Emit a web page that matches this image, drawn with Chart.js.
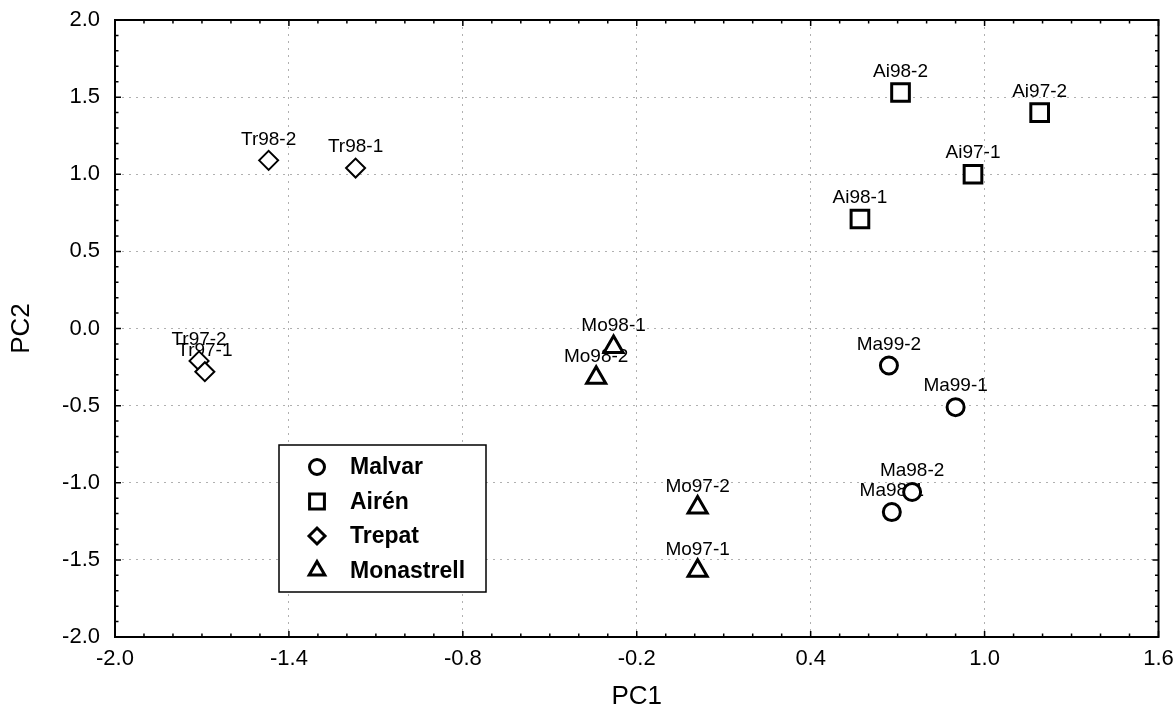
<!DOCTYPE html>
<html>
<head>
<meta charset="utf-8">
<script src="https://cdn.jsdelivr.net/npm/chart.js@4.4.0/dist/chart.umd.min.js"></script>
<style>
  html, body { margin: 0; padding: 0; background: #fff; }
</style>
</head>
<body>
<canvas id="pca" width="1174" height="714"></canvas>
<script>
// sample labels and PCA scores
const malvarNames = ['Ma99-2', 'Ma99-1', 'Ma98-2', 'Ma98-1'];
const malvarPC1 = [0.67, 0.90, 0.75, 0.68];
const malvarPC2 = [-0.24, -0.51, -1.06, -1.19];

const airenNames = ['Ai98-2', 'Ai97-2', 'Ai97-1', 'Ai98-1'];
const airenPC1 = [0.71, 1.19, 0.96, 0.57];
const airenPC2 = [1.53, 1.40, 1.00, 0.71];

const trepatNames = ['Tr98-2', 'Tr98-1', 'Tr97-2', 'Tr97-1'];
const trepatPC1 = [-1.47, -1.17, -1.71, -1.69];
const trepatPC2 = [1.09, 1.04, -0.21, -0.28];

const monaNames = ['Mo98-1', 'Mo98-2', 'Mo97-2', 'Mo97-1'];
const monaPC1 = [-0.28, -0.34, 0.01, 0.01];
const monaPC2 = [-0.12, -0.32, -1.16, -1.57];

const varieties = ['Malvar', 'Airén', 'Trepat', 'Monastrell'];
const xTicks = [-2.0, -1.4, -0.8, -0.2, 0.4, 1.0, 1.6];
const yTicks = [-2.0, -1.5, -1.0, -0.5, 0.0, 0.5, 1.0, 1.5, 2.0];

const FONT = 'Arial, "Liberation Sans", Helvetica, sans-serif';

function pts(xs, ys) {
  return xs.map((x, i) => ({ x: x, y: ys[i] }));
}

function series(label, names, xs, ys, style, radius, bw) {
  return {
    label: label,
    names: names,
    data: pts(xs, ys),
    pointStyle: style,
    pointRadius: radius,
    pointHoverRadius: radius,
    borderWidth: bw,
    borderColor: '#000',
    backgroundColor: '#fff'
  };
}

const datasets = [
  series(varieties[0], malvarNames, malvarPC1, malvarPC2, 'circle', 8.5, 3),
  series(varieties[1], airenNames, airenPC1, airenPC2, 'rect', 12.5, 3),
  series(varieties[2], trepatNames, trepatPC1, trepatPC2, 'rectRot', 9.5, 2),
  series(varieties[3], monaNames, monaPC1, monaPC2, 'triangle', 11, 3)
];

// point names above markers, and the boxed legend in the lower left
const decorPlugin = {
  id: 'decor',
  beforeDatasetsDraw(chart) {
    const ctx = chart.ctx;
    const xs = chart.scales.x, ys = chart.scales.y;
    const area = chart.chartArea;
    ctx.save();
    ctx.fillStyle = '#000';
    ctx.font = '19px ' + FONT;
    ctx.textAlign = 'center';
    ctx.textBaseline = 'middle';
    chart.data.datasets.forEach(ds => {
      ds.data.forEach((p, i) => {
        ctx.fillText(ds.names[i], xs.getPixelForValue(p.x), ys.getPixelForValue(p.y) - 21);
      });
    });

    // legend box
    const bx = area.left + 164, by = area.top + 425, bw = 207, bh = 147;
    ctx.fillStyle = '#fff';
    ctx.fillRect(bx, by, bw, bh);
    ctx.lineWidth = 1.5;
    ctx.strokeStyle = '#000';
    ctx.strokeRect(bx, by, bw, bh);
    ctx.font = 'bold 23px ' + FONT;
    ctx.textAlign = 'left';
    const legSizes = [7.5, 10.5, 8, 9];
    chart.data.datasets.forEach((ds, i) => {
      const cy = by + 22 + i * 34.5;
      ctx.lineWidth = 3;
      ctx.strokeStyle = '#000';
      ctx.fillStyle = '#fff';
      Chart.helpers.drawPoint(ctx, { pointStyle: ds.pointStyle, radius: legSizes[i], rotation: 0, borderWidth: 3 }, bx + 38, cy);
      ctx.fillStyle = '#000';
      ctx.fillText(ds.label, bx + 71, cy + 1);
    });
    ctx.restore();
  },
  afterDraw(chart) {
    const ctx = chart.ctx;
    const { left, right, top, bottom } = chart.chartArea;
    const xs = chart.scales.x, ys = chart.scales.y;
    ctx.save();
    ctx.strokeStyle = '#000';
    ctx.lineWidth = 1.5;
    // inward tick marks, minor every 0.1
    for (let k = 0; k <= 36; k++) {
      const v = -2 + k * 0.1;
      const px = xs.getPixelForValue(v);
      const len = k % 6 === 0 ? 6 : 3.5;
      ctx.beginPath();
      ctx.moveTo(px, bottom); ctx.lineTo(px, bottom - len);
      ctx.moveTo(px, top); ctx.lineTo(px, top + len);
      ctx.stroke();
    }
    for (let k = 0; k <= 40; k++) {
      const v = -2 + k * 0.1;
      const py = ys.getPixelForValue(v);
      const len = k % 5 === 0 ? 6 : 3.5;
      ctx.beginPath();
      ctx.moveTo(left, py); ctx.lineTo(left + len, py);
      ctx.moveTo(right, py); ctx.lineTo(right - len, py);
      ctx.stroke();
    }
    ctx.lineWidth = 2;
    ctx.strokeRect(left, top, right - left, bottom - top);
    ctx.restore();
  }
};

new Chart(document.getElementById('pca').getContext('2d'), {
  type: 'scatter',
  data: { datasets: datasets },
  plugins: [decorPlugin],
  options: {
    responsive: false,
    animation: false,
    devicePixelRatio: 1,
    layout: { padding: { left: 0, right: 14, top: 20, bottom: 0 } },
    plugins: { legend: { display: false }, tooltip: { enabled: false } },
    scales: {
      x: {
        type: 'linear',
        min: -2.0,
        max: 1.6,
        afterBuildTicks: s => { s.ticks = xTicks.map(v => ({ value: v })); },
        afterFit: s => { s.height = 77; s.paddingLeft = 0; s.paddingRight = 0; },
        grid: { color: '#b0b0b0', lineWidth: 1, drawTicks: false },
        border: { display: false, dash: [2, 5] },
        ticks: {
          color: '#000',
          padding: 9,
          font: { family: FONT, size: 22 },
          callback: v => v.toFixed(1)
        },
        title: {
          display: true,
          text: 'PC1',
          color: '#000',
          font: { family: FONT, size: 26 },
          padding: { top: 0, bottom: 2 }
        }
      },
      y: {
        type: 'linear',
        min: -2.0,
        max: 2.0,
        afterBuildTicks: s => { s.ticks = yTicks.map(v => ({ value: v })); },
        afterFit: s => { s.width = 115; s.paddingTop = 0; s.paddingBottom = 0; },
        grid: { color: '#b0b0b0', lineWidth: 1, drawTicks: false },
        border: { display: false, dash: [2, 5] },
        ticks: {
          color: '#000',
          padding: 15,
          font: { family: FONT, size: 22 },
          callback: v => v.toFixed(1)
        },
        title: {
          display: true,
          text: 'PC2',
          color: '#000',
          font: { family: FONT, size: 26 },
          padding: { top: 6, bottom: 0 }
        }
      }
    }
  }
});
</script>
</body>
</html>
